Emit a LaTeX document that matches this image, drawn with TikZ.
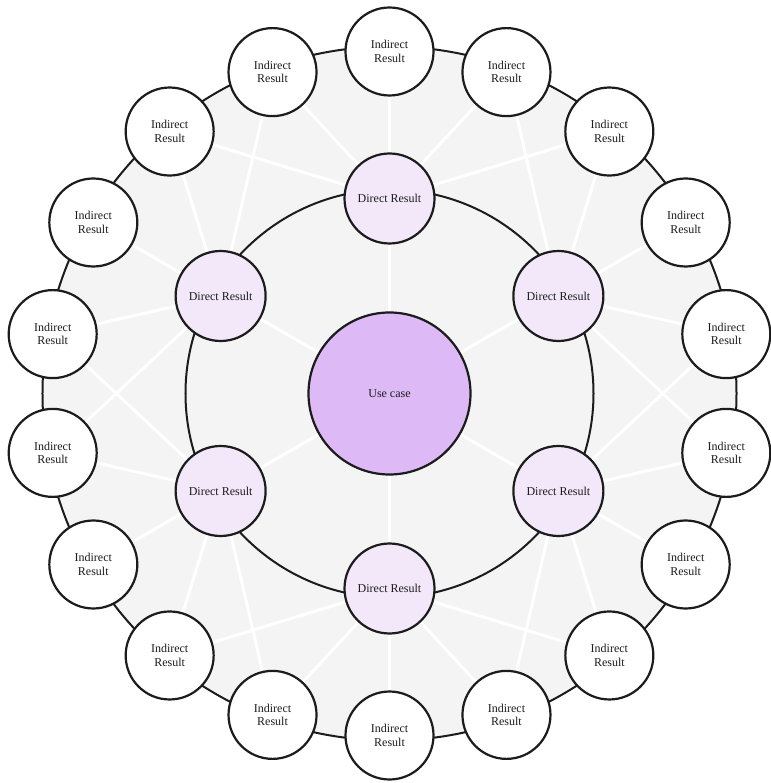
\documentclass[tikz,border=0pt]{standalone}
\usepackage{fontspec}
\setmainfont{Liberation Serif}
\usetikzlibrary{positioning}

\definecolor{usefill}{RGB}{221,185,246}
\definecolor{directfill}{RGB}{243,232,250}
\definecolor{ringfill}{RGB}{244,244,244}
\definecolor{ink}{RGB}{28,28,28}

\pgfdeclarelayer{back}
\pgfdeclarelayer{spokes}
\pgfsetlayers{back,spokes,main}

\begin{document}
\begin{tikzpicture}[x=1pt, y=1pt,
  every node/.style={circle, draw=ink, line width=2.2pt, text=ink,
    font=\fontsize{12}{13.5}\selectfont, align=center, inner sep=0pt},
  usecase/.style={fill=usefill, minimum size=162pt},
  direct/.style={fill=directfill, minimum size=90pt},
  indirect/.style={fill=white, minimum size=88pt},
  spoke/.style={white, line width=3pt},
  ring/.style={draw=ink, line width=2pt}
 ]
 \useasboundingbox (-389.5,-389.5) rectangle (380.5,393.5);

 \node [usecase] (U) {Use case};
 \foreach \k in {0,...,5}
  \node [direct] (D\k) at (90-60*\k:195) {Direct Result};
 \foreach \j in {0,...,17}
  \node [indirect] (I\j) at (90-20*\j:342) {Indirect\\Result};

 \begin{pgfonlayer}{back}
  \fill [ringfill] (0,0) circle (347);
  \draw [ring] (0,0) circle (347);
  \draw [ring] (0,0) circle (204);
 \end{pgfonlayer}

 \begin{pgfonlayer}{spokes}
 \foreach \k in {0,...,5} {
  \draw [spoke] (U) -- (D\k);
  % each direct result feeds the five nearest indirect ones
  \foreach \o in {-2,...,2} {
   \pgfmathtruncatemacro\j{mod(3*\k+\o+18,18)}
   \draw [spoke] (D\k) -- (I\j);
  }
 }
 \end{pgfonlayer}
\end{tikzpicture}
\end{document}
